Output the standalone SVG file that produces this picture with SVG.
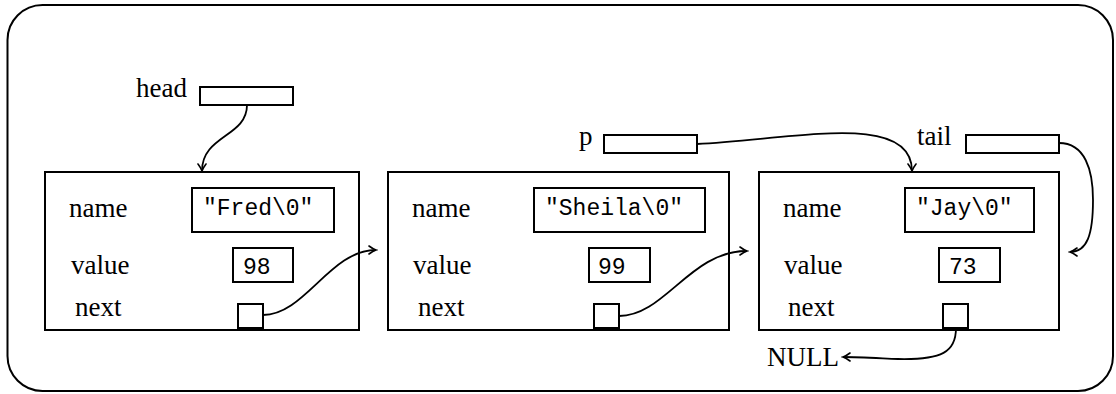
<svg xmlns="http://www.w3.org/2000/svg" width="1116" height="394" viewBox="0 0 1116 394">
<style>
.box{fill:#fff;stroke:#000;stroke-width:2}
.lbl{font-family:"Liberation Serif","Times New Roman",serif;font-size:27px;fill:#000}
.mono{font-family:"Liberation Mono","Courier New",monospace;font-size:23px;fill:#000}
.conn{fill:none;stroke:#000;stroke-width:1.8}
</style>
<defs>
<marker id="arr" viewBox="-8 -5 10 10" refX="0" refY="0" markerWidth="10" markerHeight="10" markerUnits="userSpaceOnUse" orient="auto">
<path d="M-7,-4 Q-3,-1 0,0 Q-3,1 -7,4" fill="none" stroke="#000" stroke-width="1.6" stroke-linecap="round"/>
</marker>
</defs>
<rect x="7.5" y="5" width="1105.5" height="386" rx="35" ry="35" fill="#fff" stroke="#000" stroke-width="2"/>

<g id="head">
<text class="lbl" x="136" y="97">head</text>
<rect class="box" x="200" y="87" width="93" height="18"/>
</g>
<g id="p">
<text class="lbl" x="579" y="145">p</text>
<rect class="box" x="604" y="135" width="93" height="18"/>
</g>
<g id="tail">
<text class="lbl" x="917" y="145">tail</text>
<rect class="box" x="966" y="135" width="93" height="18"/>
</g>

<g id="node1">
<rect class="box" x="45" y="172" width="314" height="158"/>
<text class="lbl" x="69" y="217">name</text>
<rect class="box" x="192" y="188" width="142" height="44"/>
<text class="mono" x="203" y="215">"Fred\0"</text>
<text class="lbl" x="71" y="274">value</text>
<rect class="box" x="233" y="248" width="60" height="34"/>
<text class="mono" x="243" y="274">98</text>
<text class="lbl" x="75" y="316">next</text>
<rect class="box" x="238" y="304" width="25" height="24"/>
</g>

<g id="node2">
<rect class="box" x="388" y="172" width="341" height="158"/>
<text class="lbl" x="412" y="217">name</text>
<rect class="box" x="534" y="188" width="171" height="44"/>
<text class="mono" x="545" y="215">"Sheila\0"</text>
<text class="lbl" x="413" y="274">value</text>
<rect class="box" x="589" y="248" width="61" height="34"/>
<text class="mono" x="598" y="274">99</text>
<text class="lbl" x="418" y="316">next</text>
<rect class="box" x="594" y="304" width="25" height="24"/>
</g>

<g id="node3">
<rect class="box" x="759" y="172" width="300" height="158"/>
<text class="lbl" x="783" y="217">name</text>
<rect class="box" x="905" y="188" width="129" height="44"/>
<text class="mono" x="916" y="215">"Jay\0"</text>
<text class="lbl" x="784" y="274">value</text>
<rect class="box" x="939" y="248" width="61" height="34"/>
<text class="mono" x="949" y="274">73</text>
<text class="lbl" x="788" y="316">next</text>
<rect class="box" x="943" y="304" width="25" height="24"/>
</g>

<g id="null">
<text class="lbl" x="767" y="366">NULL</text>
</g>

<g id="connectors">
<path class="conn" marker-end="url(#arr)" d="M247,105 C247,137 202,135 202,171"/>
<path class="conn" marker-end="url(#arr)" d="M263,315 C305,315 330,250 376,250"/>
<path class="conn" marker-end="url(#arr)" d="M619,316 C665,316 690,251 747,251"/>
<path class="conn" marker-end="url(#arr)" d="M697,144 C790,140 912,110 912,171"/>
<path class="conn" marker-end="url(#arr)" d="M1059,143 C1085,143 1093,170 1093,200 C1093,235 1087,252 1070,252"/>
<path class="conn" marker-end="url(#arr)" d="M956,328 C956,352 942,360 898,359 C875,358 858,357 843,357"/>
</g>
</svg>
